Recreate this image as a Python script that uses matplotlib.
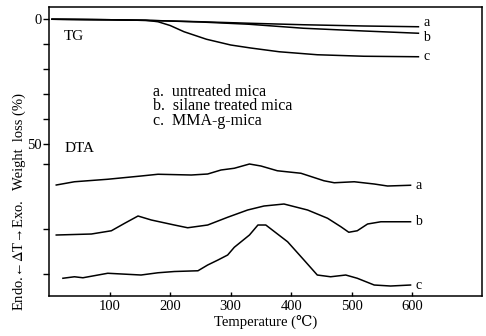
import matplotlib.pyplot as plt

plt.rcParams['font.family'] = ['Liberation Serif', 'DejaVu Serif']
plt.rcParams['mathtext.fontset'] = 'stix'

# TG curves: temperature (C) and weight loss (%)
tg_t = [5, 100, 170, 250, 330, 420, 520, 610]
tg_a = [0, 0.2, 0.5, 1.0, 1.6, 2.2, 2.7, 3.0]
tg_b = [0, 0.2, 0.5, 1.1, 2.0, 3.6, 4.7, 5.6]
tg_c_t = [5, 100, 160, 180, 200, 223, 260, 300, 333, 380, 443, 520, 610]
tg_c = [0, 0.2, 0.4, 1.0, 2.5, 5.0, 8.0, 10.3, 11.5, 13.0, 14.2, 14.8, 15.0]

# DTA curves (offset traces, same vertical scale)
dta_a_t = [12, 42, 97, 152, 180, 235, 262, 284, 306, 331, 350, 377, 416, 454, 471, 504, 537, 559, 597]
dta_a = [66.3, 65.0, 64.0, 62.7, 62.0, 62.3, 61.9, 60.3, 59.6, 57.9, 58.7, 60.6, 61.6, 64.6, 65.4, 65.0, 65.9, 66.7, 66.4]
dta_b_t = [12, 70, 103, 125, 147, 169, 207, 229, 262, 295, 328, 355, 388, 427, 460, 482, 495, 509, 526, 548, 597]
dta_b = [86.3, 85.9, 84.6, 81.6, 78.7, 80.3, 82.3, 83.4, 82.3, 79.2, 76.3, 74.7, 73.9, 76.3, 79.6, 83.0, 85.2, 84.6, 81.9, 81.0, 81.0]
dta_c_t = [23, 42, 56, 97, 152, 180, 207, 246, 262, 279, 295, 306, 331, 345, 358, 394, 421, 443, 465, 490, 509, 537, 564, 597]
dta_c = [103.6, 103.0, 103.4, 101.6, 102.3, 101.4, 100.9, 100.6, 98.3, 96.3, 94.3, 91.2, 86.3, 82.3, 82.3, 89.0, 96.3, 102.3, 103.0, 102.3, 103.6, 106.3, 106.7, 106.3]

xticks = [100, 200, 300, 400, 500, 600]
yticks = [0, 10, 20, 30, 40, 50]
ylabels = ['0', '', '', '', '', '50']
extra_ticks = [58, 84, 102]

fig = plt.figure(figsize=(4.86, 3.36), dpi=100)
ax = fig.add_axes([0.1008, 0.119, 0.891, 0.8587])

lw = 1.1
ax.plot(tg_t, tg_a, color='black', lw=lw)
ax.plot(tg_t, tg_b, color='black', lw=lw)
ax.plot(tg_c_t, tg_c, color='black', lw=lw)
ax.plot(dta_a_t, dta_a, color='black', lw=lw)
ax.plot(dta_b_t, dta_b, color='black', lw=lw)
ax.plot(dta_c_t, dta_c, color='black', lw=lw)

# curve labels at the right end (TG a/b pushed apart)
for lab, t, v, dy in [('a', tg_t, tg_a, -1.6), ('b', tg_t, tg_b, 1.6), ('c', tg_c_t, tg_c, 0),
                      ('a', dta_a_t, dta_a, 0), ('b', dta_b_t, dta_b, 0), ('c', dta_c_t, dta_c, 0)]:
    ax.text(t[-1] + 8, v[-1] + dy, lab, fontsize=10, va='center', ha='left')

ax.set_xlim(0, 715)
ax.set_ylim(110.7, -4.7)

ax.set_xticks(xticks)
ax.set_xticklabels([str(x) for x in xticks], fontsize=10.5)
ax.tick_params(axis='x', direction='in', length=3, width=1, pad=3)
ax.set_yticks(yticks + extra_ticks)
ax.set_yticklabels(ylabels + ['', '', ''], fontsize=10.5)
ax.tick_params(axis='y', direction='out', length=4, width=1, pad=1)
for s in ax.spines.values():
    s.set_linewidth(1.1)

ax.text(25, 8.5, 'TG', fontsize=11)
ax.text(25, 53, 'DTA', fontsize=11)

legend_lines = ['a.  untreated mica', 'b.  silane treated mica', 'c.  MMA-g-mica']
for i, line in enumerate(legend_lines):
    ax.text(172, 29 + 5.8 * i, line, fontsize=11.5, va='center')

ax.set_xlabel('Temperature (\u2103)', fontsize=10.5, labelpad=1)
fig.text(0.04, 0.58, 'Weight  loss (%)', rotation=90, fontsize=10.5, ha='center', va='center')
fig.text(0.04, 0.24, 'Endo.\u2190$\\mathit{\\Delta}$T\u2192Exo.', rotation=90, fontsize=10.5, ha='center', va='center')

fig.savefig('out.png', dpi=100)
